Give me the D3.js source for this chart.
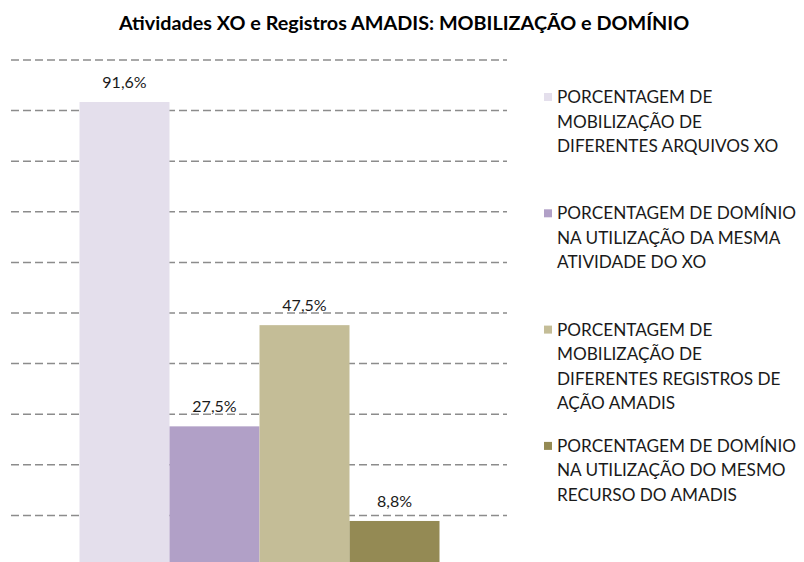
<!DOCTYPE html>
<html>
<head>
<meta charset="utf-8">
<script src="https://cdn.jsdelivr.net/npm/d3@7"></script>
<style>
  body { margin: 0; background: #fff; }
  text { font-family: Lato, "Open Sans", sans-serif; }
</style>
</head>
<body>
<svg id="chart" width="804" height="562"></svg>
<script>
const title = "Atividades XO e Registros AMADIS: MOBILIZAÇÃO e DOMÍNIO";
const series = ["mobXO", "domXO", "mobAMADIS", "domAMADIS"];
const values = [91.6, 27.5, 47.5, 8.8];
const valueLabels = ["91,6%", "27,5%", "47,5%", "8,8%"];
const legendLines = [
  ["PORCENTAGEM DE", "MOBILIZAÇÃO DE", "DIFERENTES ARQUIVOS XO"],
  ["PORCENTAGEM DE DOMÍNIO", "NA UTILIZAÇÃO DA MESMA", "ATIVIDADE DO XO"],
  ["PORCENTAGEM DE", "MOBILIZAÇÃO DE", "DIFERENTES REGISTROS DE", "AÇÃO AMADIS"],
  ["PORCENTAGEM DE DOMÍNIO", "NA UTILIZAÇÃO DO MESMO", "RECURSO DO AMADIS"]
];
const gridTicks = [10, 20, 30, 40, 50, 60, 70, 80, 90, 100];
const colors = ["#e4dfec", "#b1a0c7", "#c4bd97", "#948a54"];

const svg = d3.select("#chart");

// plot area
const plotLeft = 11, plotRight = 507;
const y = d3.scaleLinear().domain([0, 100]).range([565.5, 59.5]);
const x = d3.scaleBand().domain(series).range([79.5, 439.5]).padding(0);
const color = d3.scaleOrdinal().domain(series).range(colors);

svg.append("text")
  .attr("x", 404)
  .attr("y", 30)
  .attr("text-anchor", "middle")
  .attr("font-size", "19.8px")
  .attr("font-weight", "bold")
  .attr("fill", "#000")
  .text(title);

// dashed gridlines
const grid = svg.append("g")
  .attr("transform", `translate(${plotLeft},0)`)
  .call(d3.axisLeft(y).tickValues(gridTicks).tickSize(-(plotRight - plotLeft)).tickFormat(""));
grid.select(".domain").remove();
grid.selectAll(".tick line")
  .attr("stroke", "#8c8c8c")
  .attr("stroke-width", 1.5)
  .attr("stroke-dasharray", "8,4");

svg.append("g")
  .selectAll("rect")
  .data(series)
  .join("rect")
  .attr("x", d => x(d))
  .attr("width", x.bandwidth())
  .attr("y", (d, i) => y(values[i]))
  .attr("height", (d, i) => y(0) - y(values[i]))
  .attr("fill", d => color(d));

svg.append("g")
  .selectAll("text")
  .data(series)
  .join("text")
  .attr("x", d => x(d) + x.bandwidth() / 2)
  .attr("y", (d, i) => y(values[i]) - 14)
  .attr("text-anchor", "middle")
  .attr("font-size", "16px")
  .attr("fill", "#1a1a1a")
  .text((d, i) => valueLabels[i]);

// legend
const legend = svg.append("g");
const item = legend.selectAll("g")
  .data(series)
  .join("g")
  .attr("transform", (d, i) => `translate(544,${97 + i * 116.3})`);

item.append("rect")
  .attr("x", 0)
  .attr("y", -4)
  .attr("width", 8)
  .attr("height", 8)
  .attr("fill", d => color(d));

item.selectAll("text")
  .data((d, i) => legendLines[i])
  .join("text")
  .attr("x", 13)
  .attr("y", (d, j) => j * 24.6 + 6)
  .attr("font-size", "17.2px")
  .attr("fill", "#1a1a1a")
  .text(d => d);
</script>
</body>
</html>
